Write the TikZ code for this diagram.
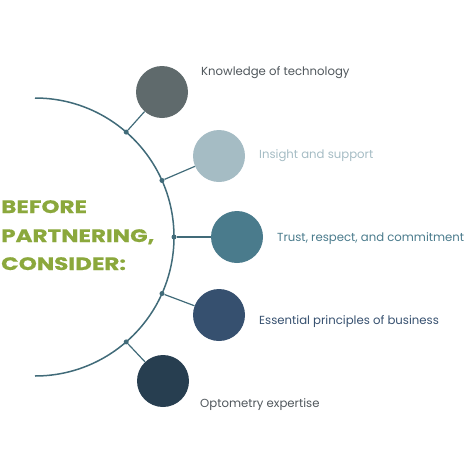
\documentclass[tikz,border=0pt]{standalone}
\usepackage{fontspec}
\setmainfont{Poppins}
\newfontfamily\titlefont[FakeStretch=1.28, FakeBold=0.6]{Poppins Bold}
\usepackage{xcolor}
\usetikzlibrary{calc}
\definecolor{arcline}{HTML}{416B79}
\definecolor{titlegreen}{HTML}{8BA83C}
\definecolor{techgray}{HTML}{5F6A6C}
\definecolor{insightblue}{HTML}{A5BCC4}
\definecolor{trustteal}{HTML}{4A7B8C}
\definecolor{businessnavy}{HTML}{36506F}
\definecolor{optodark}{HTML}{273E50}
\definecolor{labelgray}{HTML}{50575C}
\tikzset{
  bubble/.style={circle, draw=none, minimum size=52pt, inner sep=0pt},
  hub/.style={circle, fill=arcline, minimum size=5pt, inner sep=0pt},
  spoke/.style={arcline, line width=1.2pt},
  itemlabel/.style={anchor=base west, inner sep=0pt, font=\fontsize{11.7}{13}\selectfont},
  titleline/.style={anchor=base west, inner sep=0pt, text=titlegreen, font=\titlefont\fontsize{18}{20}\selectfont}
}

\begin{document}
\begin{tikzpicture}[x=1pt, y=-1pt]
  \useasboundingbox (0,0) rectangle (474,474);
  % half circle
  \draw[arcline, line width=1.5pt] (35,98) arc[start angle=-90, end angle=90, radius=139];
  % points on the arc
  \node[hub] (h1) at ($(35,237)+(-49:139)$) {};
  \node[hub] (h2) at ($(35,237)+(-24:139)$) {};
  \node[hub] (h3) at ($(35,237)+(0:139)$) {};
  \node[hub] (h4) at ($(35,237)+(24:139)$) {};
  \node[hub] (h5) at ($(35,237)+(49:139)$) {};
  % circles
  \node[bubble, fill=techgray] (tech) at (162,92) {};
  \node[bubble, fill=insightblue] (insight) at (219,156) {};
  \node[bubble, fill=trustteal] (trust) at (237,237) {};
  \node[bubble, fill=businessnavy] (business) at (219,315) {};
  \node[bubble, fill=optodark] (opto) at (163,381) {};
  % spokes
  \draw[spoke] (h1) -- (tech);
  \draw[spoke] (h2) -- (insight);
  \draw[spoke] (h3) -- (trust);
  \draw[spoke] (h4) -- (business);
  \draw[spoke] (h5) -- (opto);
  % labels
  \node[itemlabel, text=labelgray] (ltech) at (201,75) {Knowledge of technology};
  \node[itemlabel, text=insightblue] (linsight) at (259,158) {Insight and support};
  \node[itemlabel, text=trustteal] (ltrust) at (277,241) {Trust, respect, and commitment};
  \node[itemlabel, text=businessnavy] (lbusiness) at (259,324) {Essential principles of business};
  \node[itemlabel, text=labelgray] (lopto) at (200,407) {Optometry expertise};
  % title
  \node[titleline] (t1) at (1,213) {BEFORE};
  \node[titleline] (t2) at (1,242) {PARTNERING,};
  \node[titleline] (t3) at (1,270) {CONSIDER:};
\end{tikzpicture}
\end{document}
